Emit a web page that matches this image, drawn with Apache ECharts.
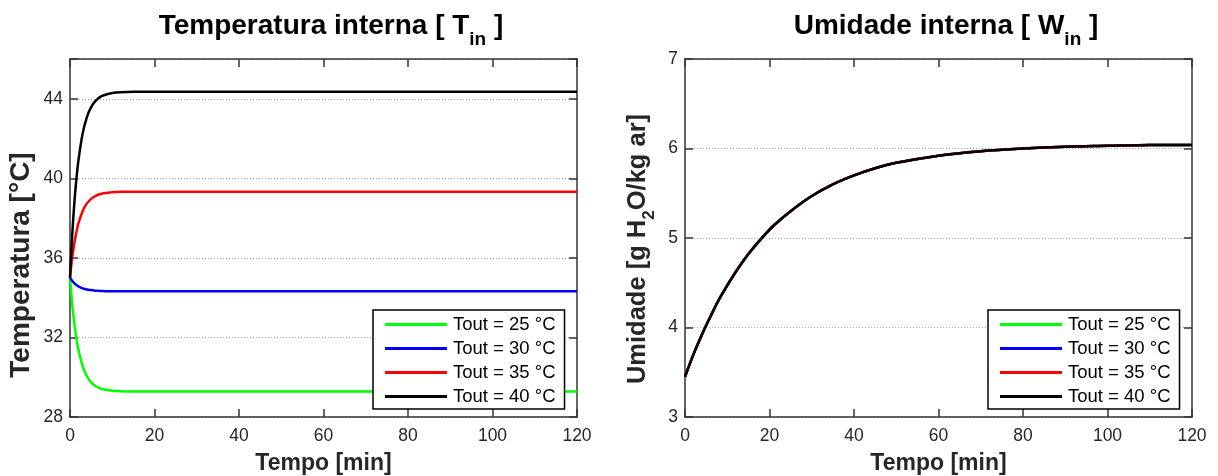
<!DOCTYPE html>
<html>
<head>
<meta charset="utf-8">
<script src="https://cdn.jsdelivr.net/npm/echarts@6/dist/echarts.min.js"></script>
<style>
html,body{margin:0;padding:0;background:#fff;}
#chart{width:1218px;height:476px;}
</style>
</head>
<body>
<div id="chart"></div>
<script>
// ---- data ----
const seriesNames = ['Tout = 25 °C', 'Tout = 30 °C', 'Tout = 35 °C', 'Tout = 40 °C'];
const seriesColors = ['#00ff00', '#0000ff', '#ff0000', '#000000'];

// Left panel: internal temperature [°C] vs time [min]
const tTime = [0, 0.5, 1, 1.5, 2, 3, 4, 5, 6, 7, 8, 10, 12, 15, 20, 30, 60, 90, 120];
const tin25 = [35.0, 33.73, 32.75, 31.98, 31.38, 30.56, 30.05, 29.75, 29.56, 29.45, 29.38, 29.32, 29.29, 29.28, 29.28, 29.28, 29.28, 29.28, 29.28];
const tin30 = [35.0, 34.85, 34.73, 34.64, 34.57, 34.47, 34.41, 34.38, 34.35, 34.34, 34.33, 34.32, 34.32, 34.32, 34.32, 34.32, 34.32, 34.32, 34.32];
const tin35 = [35.0, 35.96, 36.70, 37.28, 37.74, 38.36, 38.74, 38.97, 39.11, 39.20, 39.25, 39.30, 39.32, 39.33, 39.33, 39.33, 39.33, 39.33, 39.33];
const tin40 = [35.0, 37.07, 38.68, 39.93, 40.91, 42.26, 43.08, 43.58, 43.88, 44.07, 44.18, 44.29, 44.33, 44.35, 44.35, 44.35, 44.35, 44.35, 44.35];

// Right panel: internal humidity [g H2O/kg ar] vs time [min] (same for all Tout)
const wTime = [0, 2, 4, 6, 8, 10, 12, 15, 18, 21, 25, 30, 35, 40, 45, 50, 60, 70, 80, 90, 100, 110, 120];
const win = [3.45, 3.70, 3.92, 4.12, 4.31, 4.47, 4.62, 4.82, 4.99, 5.14, 5.30, 5.47, 5.60, 5.70, 5.78, 5.84, 5.92, 5.97, 6.00, 6.02, 6.03, 6.04, 6.04];

const xTicks = [0, 20, 40, 60, 80, 100, 120];
const tTicks = [28, 32, 36, 40, 44];
const wTicks = [3, 4, 5, 6, 7];

// ---- chart ----
const FONT = '"Liberation Sans", Arial, sans-serif';
const AX = '#333333';
const TXT = '#262626';

function pairs(xs, ys) { return xs.map((x, i) => [x, ys[i]]); }

const chart = echarts.init(document.getElementById('chart'), null, {renderer: 'canvas'});

const grids = [
  {left: 70, right: 641, top: 59, bottom: 59, containLabel: false, outerBoundsMode: 'none'},
  {left: 685, right: 26, top: 59, bottom: 59, containLabel: false, outerBoundsMode: 'none'}
];

const lineCfg = {show: true, onZero: false, lineStyle: {color: AX, width: 1.5}};
const tickCfg = {show: true, inside: true, length: 8, lineStyle: {color: AX, width: 1.5}};

function xAxisPair(gi) {
  return [
    {
      type: 'value', gridIndex: gi, position: 'bottom', min: xTicks[0], max: xTicks[xTicks.length - 1],
      interval: xTicks[1] - xTicks[0],
      axisLine: lineCfg, axisTick: tickCfg,
      axisLabel: {color: TXT, fontSize: 17.5, fontFamily: FONT, margin: 10},
      splitLine: {show: false},
      name: 'Tempo [min]', nameLocation: 'middle', nameGap: 35,
      nameTextStyle: {color: TXT, fontSize: 23, fontWeight: 'bold', fontFamily: FONT}
    },
    {
      type: 'value', gridIndex: gi, position: 'top', min: xTicks[0], max: xTicks[xTicks.length - 1],
      interval: xTicks[1] - xTicks[0],
      axisLine: lineCfg, axisTick: tickCfg,
      axisLabel: {show: false},
      splitLine: {show: false}
    }
  ];
}

function yAxisPair(gi, ticks, maxV, name, nameGap, nameStyle) {
  const interval = ticks[1] - ticks[0];
  return [
    {
      type: 'value', gridIndex: gi, position: 'left', min: ticks[0], max: maxV, interval: interval,
      axisLine: lineCfg, axisTick: tickCfg,
      axisLabel: {color: TXT, fontSize: 17.5, fontFamily: FONT, margin: 7,
        formatter: v => (ticks.indexOf(v) >= 0 ? String(v) : '')},
      splitLine: {show: true, lineStyle: {color: '#a8a8a8', type: [1, 2], width: 1}},
      name: name, nameLocation: 'middle', nameRotate: 90, nameGap: nameGap,
      nameTextStyle: nameStyle
    },
    {
      type: 'value', gridIndex: gi, position: 'right', min: ticks[0], max: maxV, interval: interval,
      axisLine: lineCfg, axisTick: tickCfg,
      axisLabel: {show: false},
      splitLine: {show: false}
    }
  ];
}

const titleRich = {
  a: {fontSize: 28, fontWeight: 'bold', fontFamily: FONT, color: '#000', lineHeight: 32},
  s: {fontSize: 19, fontWeight: 'bold', fontFamily: FONT, color: '#000', lineHeight: 20, padding: [27, 0, 0, 0]}
};

const tempNameStyle = {color: TXT, fontSize: 28, fontWeight: 'bold', fontFamily: FONT, padding: [0, 54, 0, 0]};
const umidNameStyle = {
  color: TXT, fontSize: 25.5, fontWeight: 'bold', fontFamily: FONT, padding: [0, 22, 0, 0],
  rich: {
    a: {fontSize: 25.5, fontWeight: 'bold', fontFamily: FONT, color: TXT, lineHeight: 30},
    s: {fontSize: 17, fontWeight: 'bold', fontFamily: FONT, color: TXT, lineHeight: 20, padding: [22, 0, 0, 0]}
  }
};

function legend(left) {
  return {
    left: left, top: 310, orient: 'vertical',
    data: seriesNames,
    backgroundColor: '#fff', borderColor: '#000', borderWidth: 1.5,
    padding: [5, 9, 3, 12], itemGap: 5,
    itemWidth: 62, itemHeight: 3, icon: 'rect',
    selectedMode: false,
    textStyle: {color: '#000', fontSize: 18.5, fontFamily: FONT, lineHeight: 18, padding: [0, 0, 0, 1]}
  };
}

const series = [];
const leftData = [tin25, tin30, tin35, tin40];
seriesNames.forEach((n, i) => {
  series.push({
    name: n, type: 'line', xAxisIndex: 0, yAxisIndex: 0, data: pairs(tTime, leftData[i]),
    showSymbol: false, symbol: 'none', smooth: 0.3, lineStyle: {color: seriesColors[i], width: 2.5},
    itemStyle: {color: seriesColors[i]}, animation: false, z: 3
  });
});
seriesNames.forEach((n, i) => {
  series.push({
    name: n, type: 'line', xAxisIndex: 2, yAxisIndex: 2, data: pairs(wTime, win),
    showSymbol: false, symbol: 'none', smooth: 0.3, lineStyle: {color: seriesColors[i], width: 2.5},
    itemStyle: {color: seriesColors[i]}, animation: false, z: 3
  });
});

chart.setOption({
  backgroundColor: '#fff',
  animation: false,
  title: [
    {text: '{a|Temperatura interna [ T}{s|in}{a| ]}', left: 326, top: 5, textAlign: 'center',
      textStyle: {rich: titleRich}},
    {text: '{a|Umidade interna [ W}{s|in}{a| ]}', left: 941, top: 5, textAlign: 'center',
      textStyle: {rich: titleRich}}
  ],
  grid: grids,
  xAxis: [].concat(xAxisPair(0), xAxisPair(1)),
  yAxis: [].concat(
    yAxisPair(0, tTicks, 46, 'Temperatura [°C]', 35, tempNameStyle),
    yAxisPair(1, wTicks, 7, '{a|Umidade [g H}{s|2}{a|O/kg ar]}', 32, umidNameStyle)
  ),
  legend: [legend(373), legend(988)],
  series: series
});
</script>
</body>
</html>
